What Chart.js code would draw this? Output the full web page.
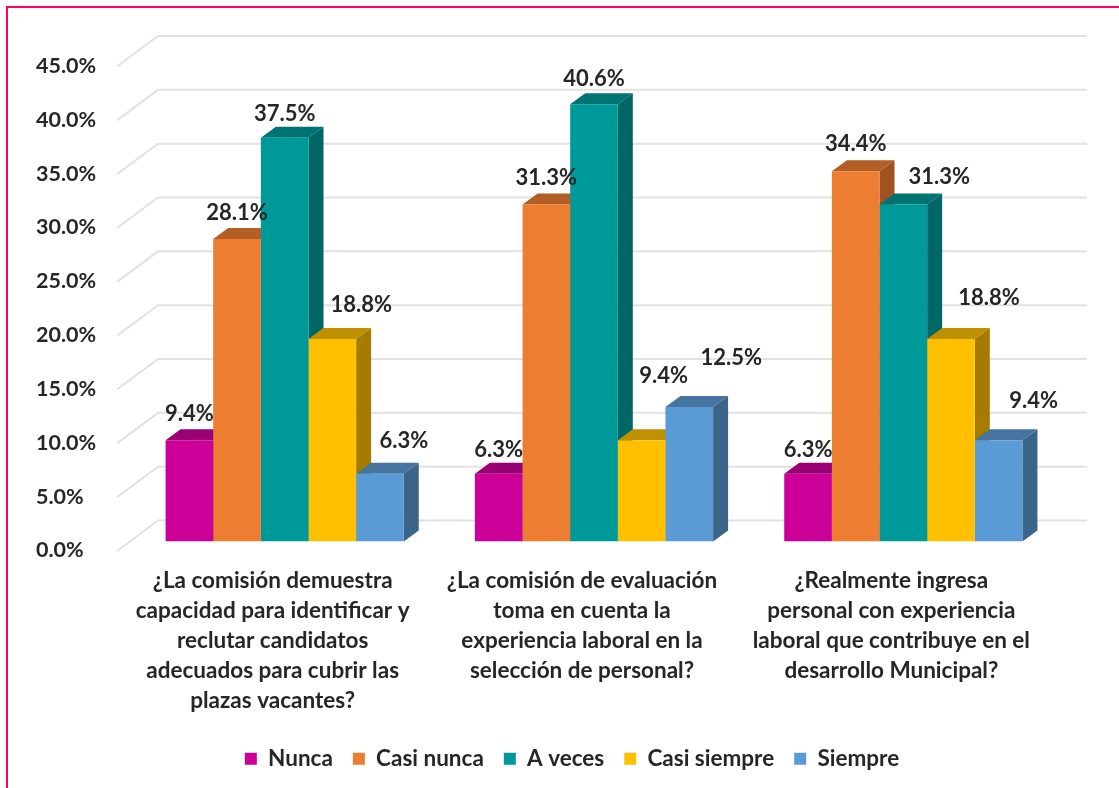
<!DOCTYPE html>
<html>
<head>
<meta charset="utf-8">
<title>Comisión</title>
<style>
    html, body { margin: 0; padding: 0; background: #fff; overflow: hidden; }
    #wrap { position: relative; width: 1119px; height: 788px; }
    #frame { position: absolute; left: 6px; top: 6px; right: 0; bottom: 0; border-left: 2px solid #ff0066; border-top: 2px solid #ff0066; }
    canvas { position: absolute; left: 0; top: 0; filter: blur(0.4px); }
</style>
<script src="https://cdn.jsdelivr.net/npm/chart.js@4"></script>
</head>
<body>
<div id="wrap">
    <div id="frame"></div>
    <canvas id="chart" width="1119" height="788"></canvas>
</div>
<script>
const questions = [
    ['¿La comisión demuestra', 'capacidad para identificar y', 'reclutar candidatos', 'adecuados para cubrir las', 'plazas vacantes?'],
    ['¿La comisión de evaluación', 'toma en cuenta la', 'experiencia laboral en la', 'selección de personal?'],
    ['¿Realmente ingresa', 'personal con experiencia', 'laboral que contribuye en el', 'desarrollo Municipal?'],
];

const nunca = [9.4, 6.3, 6.3];
const casiNunca = [28.1, 31.3, 34.4];
const aVeces = [37.5, 40.6, 31.3];
const casiSiempre = [18.8, 9.4, 18.8];
const siempre = [6.3, 12.5, 9.4];

const fontName = 'Lato';
const textColor = '#262626';

// front, top and side colour of each series
const series = [
    { label: 'Nunca', data: nunca, front: '#cc0099', top: '#990073', side: '#800060' },
    { label: 'Casi nunca', data: casiNunca, front: '#ed7d31', top: '#b25e25', side: '#9e5321' },
    { label: 'A veces', data: aVeces, front: '#009999', top: '#007373', side: '#006666' },
    { label: 'Casi siempre', data: casiSiempre, front: '#ffc000', top: '#bf9000', side: '#a67c00' },
    { label: 'Siempre', data: siempre, front: '#5b9bd5', top: '#44749f', side: '#3a6488' },
];

// the value labels sit where the author dragged them: [dx, dy] from the bar top, per series and question
const labelNudge = [
    [[0, -26], [0, -24], [0, -24]],
    [[0, -26], [0, -27], [0, -27]],
    [[0, -24], [0, -25], [36, -28]],
    [[29, -34], [22, -64], [38, -41]],
    [[24, -33], [42, -49], [35, -39]],
];

const BAR_DX = 15;
const BAR_DY = 11;

const depthPlugin = {
    id: 'depth',
    beforeDatasetsDraw(chart) {
        const ctx = chart.ctx;
        const y = chart.scales.y;

        // walls: slanted line from the front to the back, then along the back
        ctx.save();
        ctx.strokeStyle = '#e2e2e2';
        ctx.lineWidth = 2;
        y.ticks.forEach(t => {
            const py = y.getPixelForValue(t.value);
            ctx.beginPath();
            ctx.moveTo(chart.chartArea.left - 13, py + 9.5);
            ctx.lineTo(chart.chartArea.left + 28, py - 21);
            ctx.lineTo(chart.chartArea.right + 29, py - 21);
            ctx.stroke();
        });

        // top and side of every bar, left to right so the later ones cover the earlier
        series.forEach((s, i) => {
            chart.getDatasetMeta(i).data.forEach(bar => {
                const left = bar.x - bar.width / 2;
                const right = bar.x + bar.width / 2;

                ctx.fillStyle = s.top;
                ctx.beginPath();
                ctx.moveTo(left, bar.y);
                ctx.lineTo(left + BAR_DX, bar.y - BAR_DY);
                ctx.lineTo(right + BAR_DX, bar.y - BAR_DY);
                ctx.lineTo(right, bar.y);
                ctx.closePath();
                ctx.fill();

                ctx.fillStyle = s.side;
                ctx.beginPath();
                ctx.moveTo(right, bar.y);
                ctx.lineTo(right + BAR_DX, bar.y - BAR_DY);
                ctx.lineTo(right + BAR_DX, bar.base - BAR_DY);
                ctx.lineTo(right, bar.base);
                ctx.closePath();
                ctx.fill();
            });
        });
        ctx.restore();
    },
    afterDatasetsDraw(chart) {
        const ctx = chart.ctx;
        ctx.save();
        ctx.font = 'bold 22px ' + fontName;
        ctx.fillStyle = textColor;
        ctx.textAlign = 'center';
        ctx.textBaseline = 'middle';
        series.forEach((s, i) => {
            chart.getDatasetMeta(i).data.forEach((bar, j) => {
                const nudge = labelNudge[i][j];
                ctx.fillText(s.data[j].toFixed(1) + '%', bar.x + nudge[0], bar.y + nudge[1]);
            });
        });
        ctx.restore();
    },
};

new Chart(document.getElementById('chart'), {
    type: 'bar',
    data: {
        labels: questions,
        datasets: series.map(s => ({
            label: s.label,
            data: s.data,
            backgroundColor: s.front,
            borderWidth: 0,
            barPercentage: 1,
            categoryPercentage: 0.77,
        })),
    },
    options: {
        responsive: false,
        animation: false,
        layout: { padding: { left: 86, right: 61, top: 57, bottom: 8 } },
        scales: {
            x: {
                grid: { display: false },
                border: { display: false },
                afterFit: (scale) => { scale.height = 186; },
                ticks: {
                    autoSkip: false,
                    maxRotation: 0,
                    padding: 16,
                    labelOffset: -12,
                    color: textColor,
                    font: { family: fontName, size: 22.5, weight: 'bold', lineHeight: 1.335 },
                },
            },
            y: {
                min: 0,
                max: 45,
                grid: { display: false },
                border: { display: false },
                afterFit: (scale) => { scale.width = 44; },
                ticks: {
                    stepSize: 5,
                    // mirrored so the labels are not clipped to the narrow axis box
                    mirror: true,
                    padding: -94,
                    labelOffset: 9,
                    color: textColor,
                    font: { family: fontName, size: 21.5, weight: 'bold' },
                    callback: (v) => v.toFixed(1) + '%',
                },
            },
        },
        plugins: {
            tooltip: { enabled: false },
            legend: {
                position: 'bottom',
                labels: {
                    boxWidth: 12,
                    boxHeight: 12,
                    padding: 20,
                    color: textColor,
                    font: { family: fontName, size: 22.5, weight: 'bold' },
                },
            },
        },
    },
    plugins: [depthPlugin],
});
</script>
</body>
</html>
